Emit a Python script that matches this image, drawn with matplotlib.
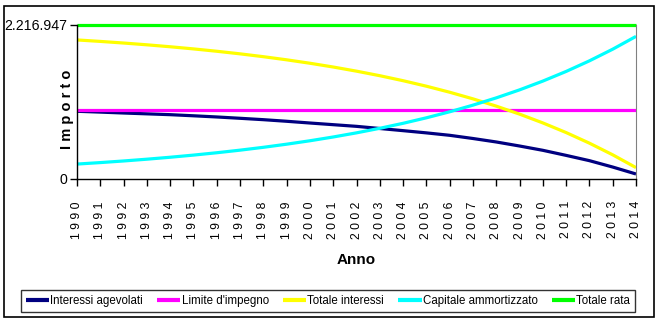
import matplotlib
matplotlib.use("Agg")
import matplotlib.pyplot as plt
from matplotlib.patches import Rectangle

# Piano di ammortamento 1990-2014 (importi annui)
anni = list(range(1990, 2015))

interessi_agevolati = [
    975000, 963000, 950000, 938000, 926000, 910000, 893000, 874000, 854000,
    831000, 806000, 782000, 758000, 727000, 696000, 664000, 629000, 583000,
    533000, 475000, 413000, 340000, 264000, 172000, 72000,
]
limite_impegno = [1000000] * 25
totale_interessi = [
    2001900, 1980700, 1957400, 1931800, 1903700, 1872900, 1839000, 1801700,
    1760800, 1715800, 1666400, 1612100, 1552500, 1487000, 1415100, 1336000,
    1249200, 1153800, 1049000, 933900, 807400, 668500, 515900, 348200, 164000,
]
capitale_ammortizzato = [
    215000, 236200, 259500, 285100, 313200, 344000, 377900, 415200, 456100,
    501100, 550500, 604800, 664400, 729900, 801800, 880900, 967700, 1063100,
    1167900, 1283000, 1409500, 1548400, 1701000, 1868700, 2052900,
]
totale_rata = [2216947] * 25

serie = [
    ("Interessi agevolati", interessi_agevolati, "#000080"),
    ("Limite d'impegno", limite_impegno, "#FF00FF"),
    ("Totale interessi", totale_interessi, "#FFFF00"),
    ("Capitale ammortizzato", capitale_ammortizzato, "#00FFFF"),
    ("Totale rata", totale_rata, "#00FF00"),
]

plt.rcParams["font.family"] = ["Liberation Sans", "DejaVu Sans"]

W, H = 661, 325
fig = plt.figure(figsize=(W / 100, H / 100), dpi=100)
fig.patch.set_facecolor("white")

# outer chart frame
fig.patches.append(Rectangle((4 / W, 1 - 317 / H), 650 / W, 311 / H,
                             transform=fig.transFigure, fill=False,
                             edgecolor="black", linewidth=1.2))

ax = fig.add_axes([77 / W, 1 - 179 / H, 559 / W, 154 / H])

for nome, valori, colore in serie:
    ax.plot(anni, valori, color=colore, linewidth=2.3, label=nome,
            solid_capstyle="butt", clip_on=False)

ax.set_xlim(anni[0], anni[-1])
ax.set_ylim(0, totale_rata[0])

ax.spines["top"].set_visible(False)
ax.spines["right"].set_color("#808080")
ax.spines["left"].set_linewidth(1.0)
ax.spines["bottom"].set_linewidth(1.0)

ax.set_xticks(anni)
ax.set_xticklabels([" ".join(str(a)) for a in anni], rotation=90,
                   fontsize=8.8, va="top")
ax.tick_params(axis="x", direction="out", length=5, width=1, pad=11)

ymax = totale_rata[0]
ax.set_yticks([0, ymax])
ax.set_yticklabels(["0", f"{ymax:,}".replace(",", ".")], fontsize=10.2)
ax.tick_params(axis="y", direction="out", length=5, width=1, pad=2)

ax.set_xlabel("Anno", fontsize=11, fontweight="bold", labelpad=10)
ax.set_ylabel("I m p o r t o", fontsize=10.5, fontweight="bold")
ax.yaxis.set_label_coords(-0.006, 0.45)

leg = fig.legend(loc="center", bbox_to_anchor=(328 / W, 1 - 301 / H),
                 ncol=5, frameon=True, fancybox=False, edgecolor="black",
                 handlelength=2.0, handletextpad=0.1, columnspacing=1.25,
                 borderpad=0.45, prop={"size": 8.3})
leg.get_frame().set_linewidth(1.0)
for line in leg.get_lines():
    line.set_linewidth(3)

fig.savefig("out.png", dpi=100, facecolor="white")
